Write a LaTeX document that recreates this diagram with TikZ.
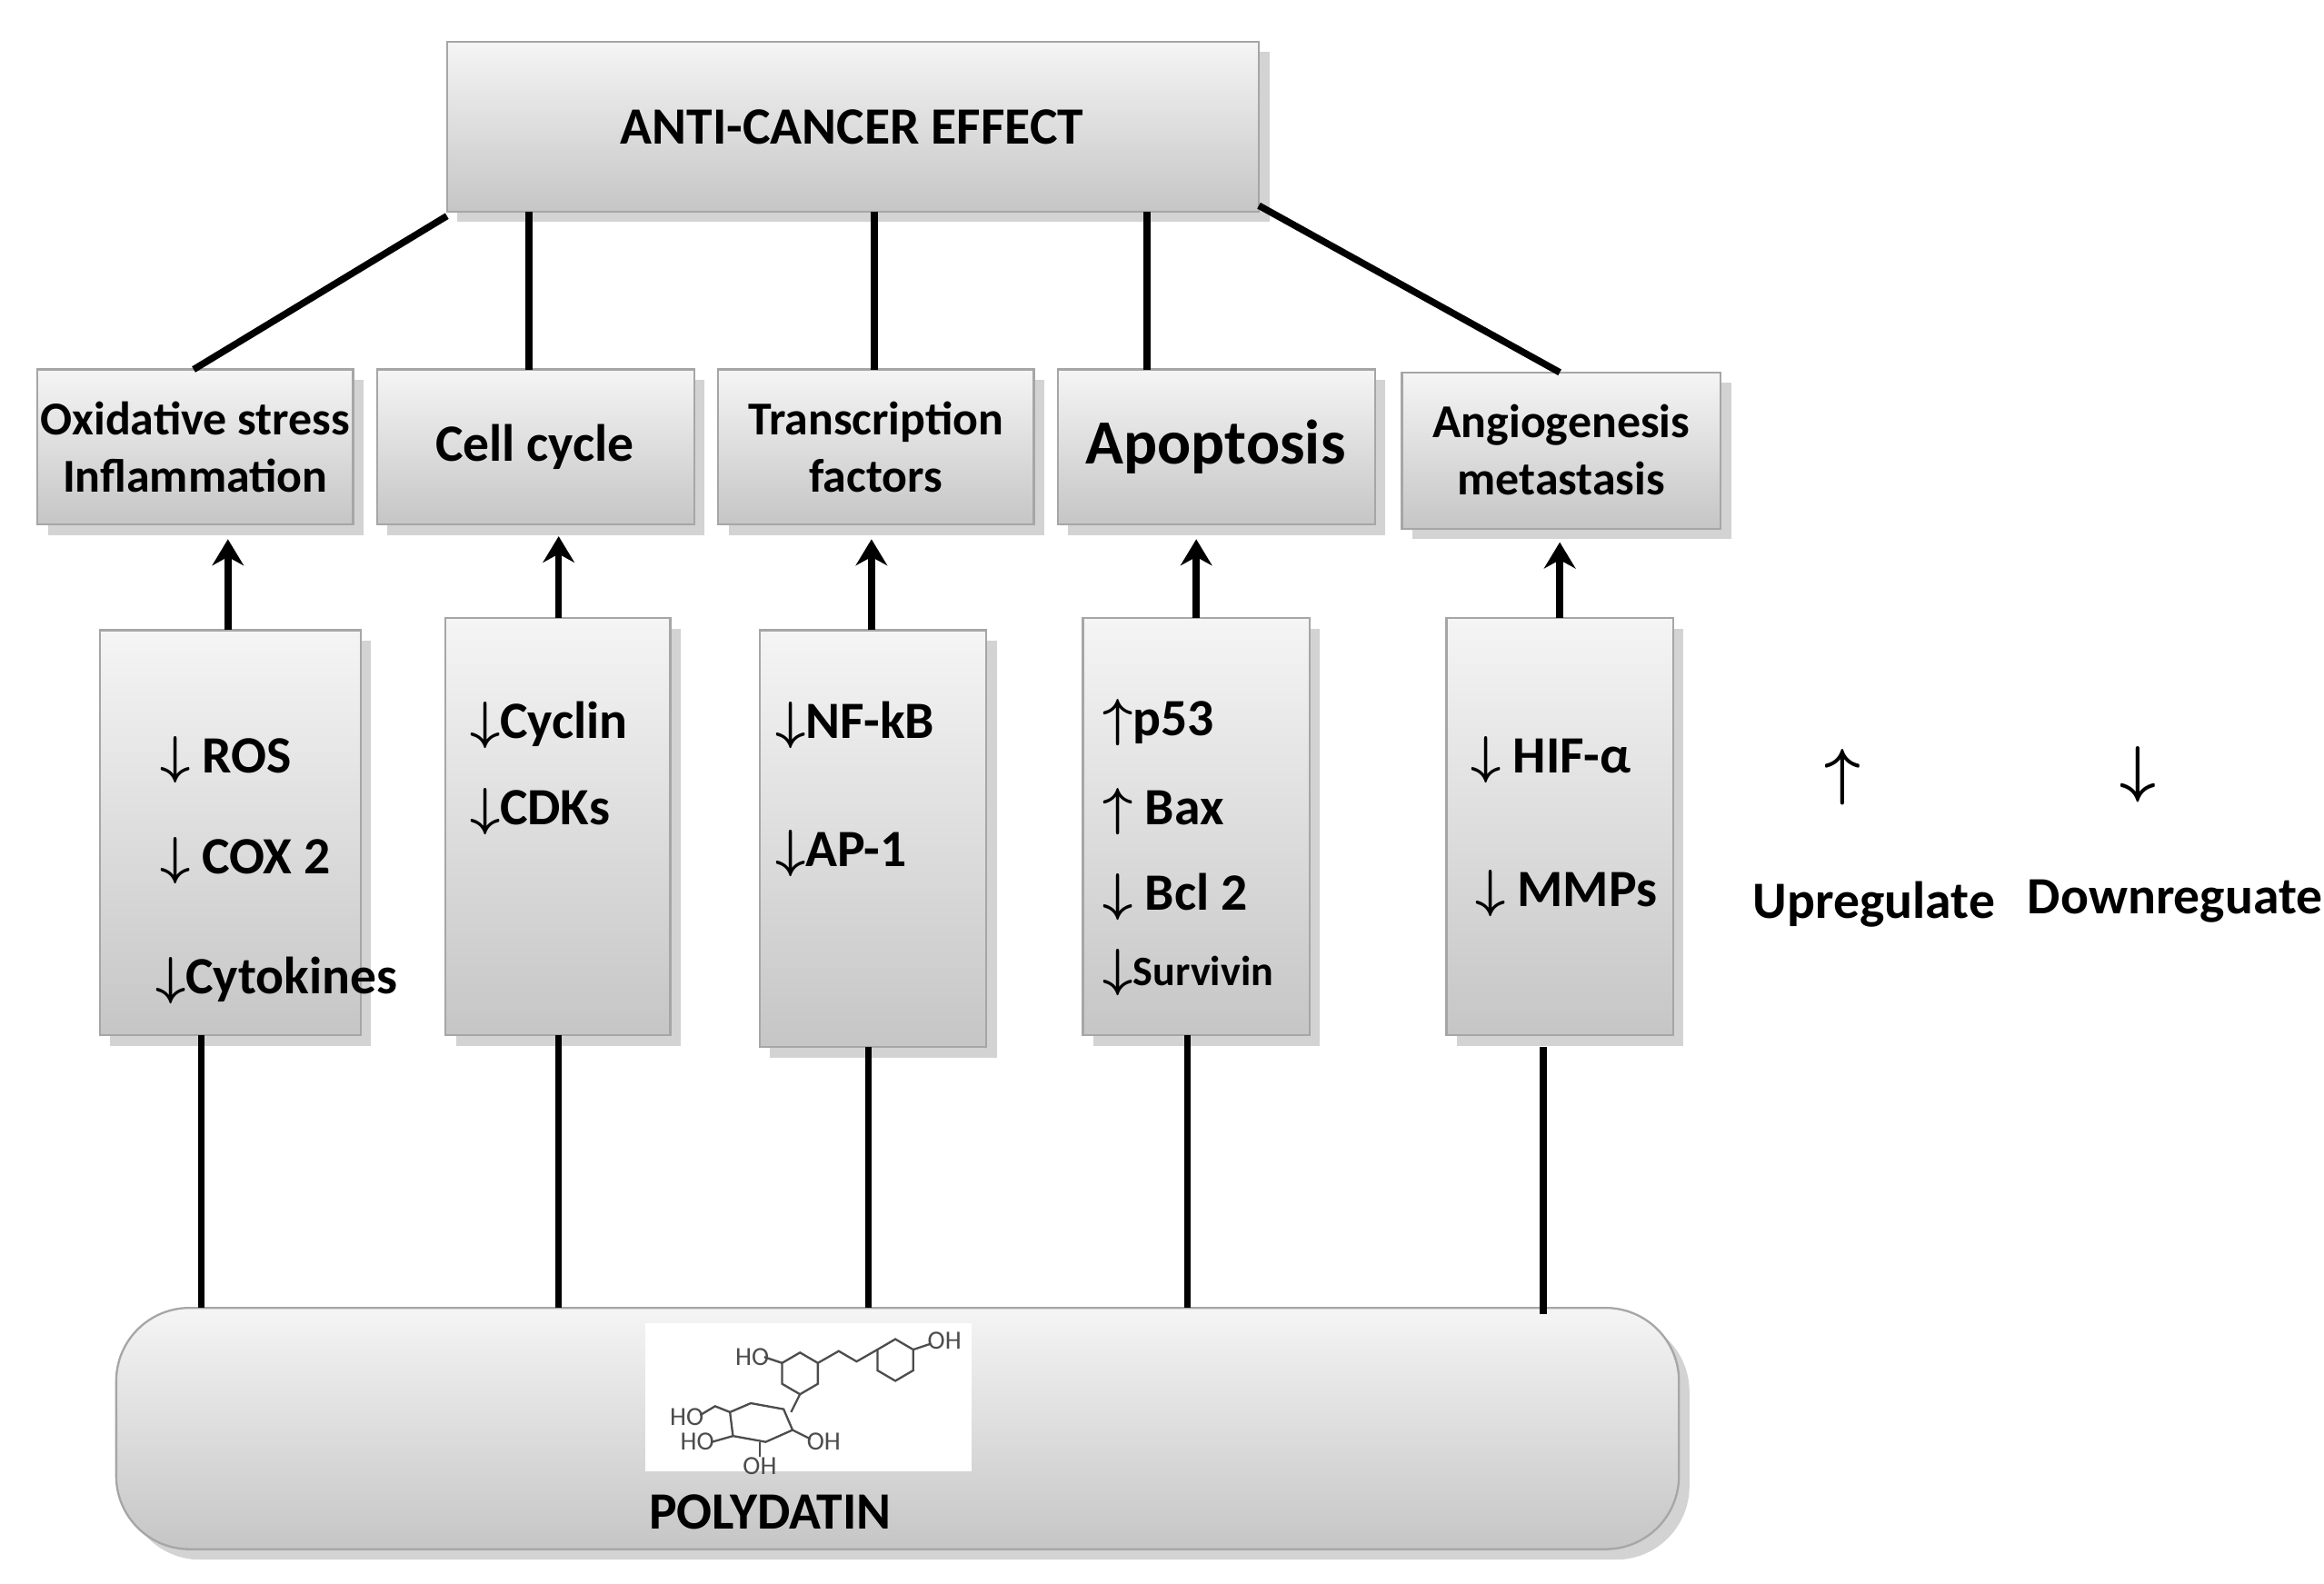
\documentclass[tikz,border=0pt]{standalone}
\usepackage{amsmath}
\usepackage{fontspec}
\setmainfont{Carlito}
\usetikzlibrary{arrows.meta,shadows}
\tikzset{
  grbox/.style={draw=gray!70,top color=gray!8,bottom color=gray!45,drop shadow={opacity=0.35,shadow xshift=2pt,shadow yshift=-2pt}},
  link/.style={line width=1.3pt},
  up/.style={line width=1.3pt,-{Stealth[length=5pt,width=6pt]}},
  item/.style={anchor=west,font=\bfseries},
}
\begin{document}
\begin{tikzpicture}[x=0.01cm,y=-0.01cm]
	\useasboundingbox (0,0) rectangle (1560,1063);

	% top
	\draw[grbox] (300,28) rectangle (845,142);
	\node (effect) at (572,85) {\bfseries ANTI-CANCER EFFECT};

	% second row
	\draw[grbox] (25,248) rectangle (237,352);
	\node[align=center,font=\bfseries\small] (ox) at (131,300) {Oxidative stress\\Inflammation};
	\draw[grbox] (253,248) rectangle (466,352);
	\node[font=\bfseries] (cc) at (359,300) {Cell cycle};
	\draw[grbox] (482,248) rectangle (694,352);
	\node[align=center,font=\bfseries\small] (tf) at (588,300) {Transcription\\factors};
	\draw[grbox] (710,248) rectangle (923,352);
	\node[font=\bfseries\large] (ap) at (816,300) {Apoptosis};
	\draw[grbox] (941,250) rectangle (1155,355);
	\node[align=center,font=\bfseries\small] (an) at (1048,302) {Angiogenesis\\metastasis};

	% links from the top box
	\coordinate (t1) at (300,145); \coordinate (b1) at (130,248);
	\coordinate (t2) at (355,142); \coordinate (b2) at (355,248);
	\coordinate (t3) at (587,142); \coordinate (b3) at (587,248);
	\coordinate (t4) at (770,142); \coordinate (b4) at (770,248);
	\coordinate (t5) at (845,138); \coordinate (b5) at (1047,250);
	\foreach \i in {1,...,5}
		\draw[link] (t\i) -- (b\i);

	% third row
	\draw[grbox] (67,423) rectangle (242,695);
	\node[item] (ros) at (95,510) {$\boldsymbol\downarrow$ ROS};
	\node[item] (cox) at (95,578) {$\boldsymbol\downarrow$\ COX 2};
	\node[item] (cyt) at (92,658) {$\boldsymbol\downarrow$Cytokines};
	\draw[grbox] (299,415) rectangle (450,695);
	\node[item] (cyc) at (303,487) {$\boldsymbol\downarrow$Cyclin};
	\node[item] (cdk) at (303,545) {$\boldsymbol\downarrow$CDKs};
	\draw[grbox] (510,423) rectangle (662,703);
	\node[item] (nfkb) at (508,487) {$\boldsymbol\downarrow$NF-kB};
	\node[item] (ap1) at (508,573) {$\boldsymbol\downarrow$AP-1};
	\draw[grbox] (727,415) rectangle (879,695);
	\node[item] (p53) at (728,485) {$\boldsymbol\uparrow$p53};
	\node[item] (bax) at (728,545) {$\boldsymbol\uparrow$ Bax};
	\node[item] (bcl) at (728,602) {$\boldsymbol\downarrow$ Bcl 2};
	\node[item,font=\bfseries\footnotesize] (sur) at (728,653) {{\normalsize$\boldsymbol\downarrow$}Survivin};
	\draw[grbox] (971,415) rectangle (1123,695);
	\node[item] (hif) at (975,510) {$\boldsymbol\downarrow$ HIF-α};
	\node[item] (mmp) at (978,600) {$\boldsymbol\downarrow$ MMPs};

	% arrows up
	\coordinate (u1) at (153,423); \coordinate (v1) at (153,362);
	\coordinate (u2) at (375,415); \coordinate (v2) at (375,360);
	\coordinate (u3) at (585,423); \coordinate (v3) at (585,362);
	\coordinate (u4) at (803,415); \coordinate (v4) at (803,362);
	\coordinate (u5) at (1047,415); \coordinate (v5) at (1047,364);
	\foreach \i in {1,...,5}
		\draw[up] (u\i) -- (v\i);

	% polydatin
	\draw[grbox,rounded corners=14pt] (78,878) rectangle (1127,1040);
	\node[font=\bfseries] (poly) at (517,1015) {POLYDATIN};
	\draw[draw=none,fill=white] (433,888) rectangle (652,988);
	\begin{scope}[gray!60!black,thin]
		\draw (525,915) -- ++(12,-7) -- ++(12,7) -- ++(0,14) -- ++(-12,7) -- ++(-12,-7) -- cycle;
		\draw (549,915) -- ++(14,-8) -- ++(12,7) -- ++(14,-8);
		\draw (589,906) -- ++(12,-7) -- ++(12,7) -- ++(0,14) -- ++(-12,7) -- ++(-12,-7) -- cycle;
		\draw (613,906) -- ++(12,-4);
		\draw (525,915) -- ++(-12,-4);
		\draw (537,936) -- ++(-6,12);
		\draw (490,948) -- ++(14,-6) -- ++(22,4) -- ++(6,14) -- ++(-18,8) -- ++(-22,-4) -- cycle;
		\draw (490,948) -- ++(-10,-4) -- ++(-10,6);
		\draw (492,964) -- ++(-14,4);
		\draw (510,968) -- ++(0,10);
		\draw (532,960) -- ++(12,6);
		\node[font=\tiny,inner sep=0] (oh1) at (634,900) {OH};
		\node[font=\tiny,inner sep=0] (oh2) at (505,911) {HO};
		\node[font=\tiny,inner sep=0] (oh3) at (461,951) {HO};
		\node[font=\tiny,inner sep=0] (oh4) at (468,968) {HO};
		\node[font=\tiny,inner sep=0] (oh5) at (510,984) {OH};
		\node[font=\tiny,inner sep=0] (oh6) at (553,968) {OH};
	\end{scope}

	% links down
	\coordinate (d1) at (135,695); \coordinate (e1) at (135,878);
	\coordinate (d2) at (375,695); \coordinate (e2) at (375,878);
	\coordinate (d3) at (583,703); \coordinate (e3) at (583,878);
	\coordinate (d4) at (797,695); \coordinate (e4) at (797,878);
	\coordinate (d5) at (1036,703); \coordinate (e5) at (1036,882);
	\foreach \i in {1,...,5}
		\draw[link] (d\i) -- (e\i);

	% legend
	\node[font=\large] (uparr) at (1237,522) {$\boldsymbol\uparrow$};
	\node[font=\bfseries] (upl) at (1258,607) {Upregulate};
	\node[font=\large] (dnarr) at (1435,520) {$\boldsymbol\downarrow$};
	\node[font=\bfseries] (dnl) at (1460,605) {Downreguate};
\end{tikzpicture}
\end{document}
